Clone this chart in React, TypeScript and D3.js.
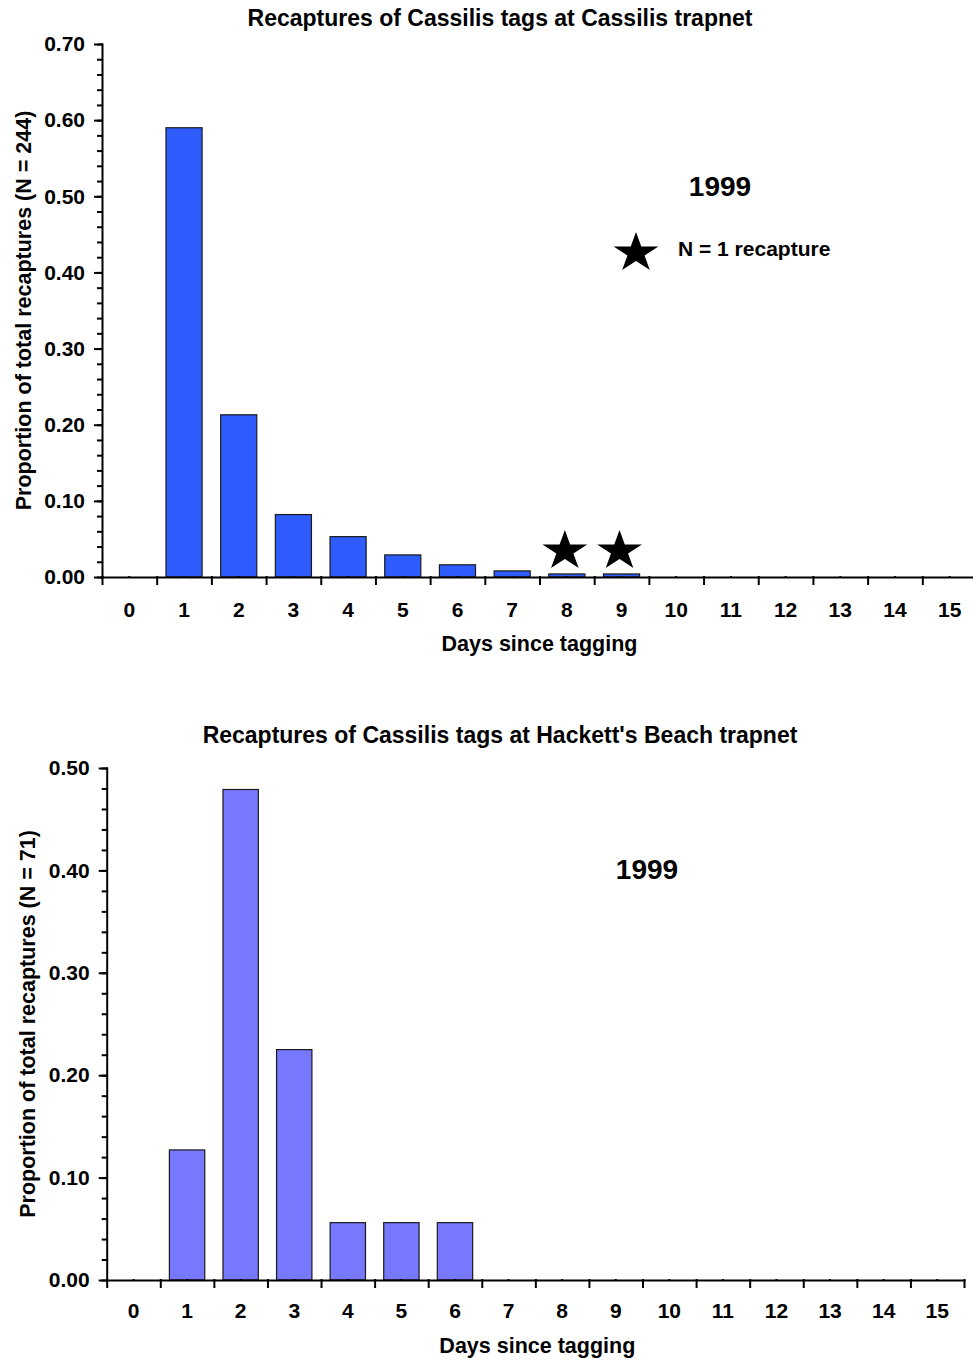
import * as d3 from "d3";
import React, { Component } from "react";

const days = ["0", "1", "2", "3", "4", "5", "6", "7", "8", "9", "10", "11", "12", "13", "14", "15"];
// proportion of recaptures per day since tagging
const cassilisProportion = [0, 0.59, 0.213, 0.082, 0.053, 0.029, 0.016, 0.008, 0.004, 0.004, 0, 0, 0, 0, 0, 0];
const hackettProportion = [0, 0.127, 0.479, 0.225, 0.056, 0.056, 0.056, 0, 0, 0, 0, 0, 0, 0, 0, 0];
// days where a single recapture happened (marked with a star)
const singleRecaptureDays = ["8", "9"];
const cassilisTicks = [0, 0.1, 0.2, 0.3, 0.4, 0.5, 0.6, 0.7];
const hackettTicks = [0, 0.1, 0.2, 0.3, 0.4, 0.5];

const FONT = "'Liberation Sans', Arial, Helvetica, sans-serif";
const W = 973;
const H = 1361;

function drawPanel(svg: any, p: any) {
  const g = svg.append("g");
  const x = d3.scaleBand().domain(days).range([p.left, p.right]);
  const xEdge = d3.scaleLinear().domain([0, days.length]).range([p.left, p.right]);
  const y = d3.scaleLinear().domain([0, p.yMax]).range([p.bottom, p.top]);
  const bw = x.bandwidth();

  const rows = days.map((d, i) => ({ day: d, v: p.values[i] })).filter((d) => d.v > 0);
  g.selectAll("rect.bar")
    .data(rows)
    .join("rect")
    .attr("class", "bar")
    .attr("x", (d: any) => (x(d.day) as number) + bw * 0.17)
    .attr("width", bw * 0.66)
    .attr("y", (d: any) => y(d.v))
    .attr("height", (d: any) => y(0) - y(d.v))
    .attr("fill", p.color)
    .attr("stroke", "#1a1a1a")
    .attr("stroke-width", 1.2);

  // minor y ticks
  const minor = d3.range(0, p.yMax + 1e-9, 0.02);
  g.append("g")
    .attr("transform", `translate(${p.left},0)`)
    .call(d3.axisLeft(y).tickValues(minor).tickSize(4).tickSizeOuter(0).tickFormat(() => ""))
    .call((a: any) => a.select(".domain").remove());

  // major y axis
  const yAxis = g
    .append("g")
    .attr("transform", `translate(${p.left},0)`)
    .call(d3.axisLeft(y).tickValues(p.ticks).tickSize(7).tickSizeOuter(0).tickPadding(10).tickFormat(d3.format(".2f") as any));
  yAxis.selectAll("text").attr("font-size", 21).attr("font-weight", "bold").attr("font-family", FONT).attr("fill", "#000");

  // x axis with ticks between days
  g.append("g")
    .attr("transform", `translate(0,${p.bottom})`)
    .call(d3.axisBottom(xEdge).tickValues(d3.range(0, days.length + 1)).tickSize(7).tickSizeOuter(0).tickFormat(() => ""));

  const xLabels = g
    .append("g")
    .attr("transform", `translate(0,${p.bottom})`)
    .call(d3.axisBottom(x).tickSize(0).tickPadding(p.labelPad));
  xLabels.select(".domain").remove();
  xLabels.selectAll("text").attr("font-size", 21).attr("font-weight", "bold").attr("font-family", FONT).attr("fill", "#000");

  g.selectAll(".domain, .tick line").attr("stroke", "#000").attr("stroke-width", 2).attr("stroke-linecap", "square");

  const txt = g.append("g").attr("font-family", FONT).attr("font-weight", "bold").attr("fill", "#000");
  txt.append("text")
    .attr("x", 500)
    .attr("y", p.titleY)
    .attr("text-anchor", "middle")
    .attr("font-size", 23)
    .text(p.title);
  txt.append("text")
    .attr("x", (p.left + Math.min(p.right, W)) / 2 + 2)
    .attr("y", p.xLabelY)
    .attr("text-anchor", "middle")
    .attr("font-size", 21.5)
    .text("Days since tagging");
  txt.append("text")
    .attr("transform", `translate(${p.yLabelX},${(p.top + p.bottom) / 2}) rotate(-90)`)
    .attr("text-anchor", "middle")
    .attr("font-size", 21.5)
    .text(p.yLabel);
  txt.append("text")
    .attr("x", p.yearX)
    .attr("y", p.yearY)
    .attr("text-anchor", "middle")
    .attr("font-size", 28)
    .text("1999");

  return { x, y, bw, g };
}

export default class App extends Component {
  chartRef: any;
  componentDidMount(): void {
    const svg = d3.select(this.chartRef);
    svg.selectAll("*").remove();

    const top = drawPanel(svg, {
      left: 102,
      right: 977,
      top: 44,
      bottom: 577,
      yMax: 0.7,
      ticks: cassilisTicks,
      values: cassilisProportion,
      color: "#2e5cff",
      title: "Recaptures of Cassilis tags at Cassilis trapnet",
      titleY: 26,
      xLabelY: 651,
      labelPad: 25,
      yLabel: "Proportion of total recaptures (N = 244)",
      yLabelX: 31,
      yearX: 720,
      yearY: 196,
    });

    drawPanel(svg, {
      left: 106.7,
      right: 964,
      top: 768,
      bottom: 1280,
      yMax: 0.5,
      ticks: hackettTicks,
      values: hackettProportion,
      color: "#7878ff",
      title: "Recaptures of Cassilis tags at Hackett's Beach trapnet",
      titleY: 743,
      xLabelY: 1353,
      labelPad: 23,
      yLabel: "Proportion of total recaptures (N = 71)",
      yLabelX: 35,
      yearX: 647,
      yearY: 879,
    });

    // stars for single recaptures
    const star = d3.symbol().type(d3.symbolStar).size((21 * 21) / 0.8908130915292852);
    top.g
      .selectAll("path.star")
      .data(singleRecaptureDays)
      .join("path")
      .attr("class", "star")
      .attr("d", star as any)
      .attr("transform", (d: any) => `translate(${(top.x(d) as number) + top.bw / 2 - 2},${top.y(0) - 26}) scale(1.12,1)`)
      .attr("fill", "#000");

    // legend
    top.g
      .append("path")
      .attr("d", star as any)
      .attr("transform", "translate(636,253) scale(1.12,1)")
      .attr("fill", "#000");
    top.g
      .append("text")
      .attr("x", 678)
      .attr("y", 256)
      .attr("font-family", FONT)
      .attr("font-weight", "bold")
      .attr("font-size", 21)
      .text("N = 1 recapture");
  }
  render() {
    return (
      <div style={{ position: "absolute", left: 0, top: 0, width: W, height: H, background: "#fff" }}>
        <svg ref={(r) => (this.chartRef = r)} width={W} height={H} style={{ display: "block" }}></svg>
      </div>
    );
  }
}
